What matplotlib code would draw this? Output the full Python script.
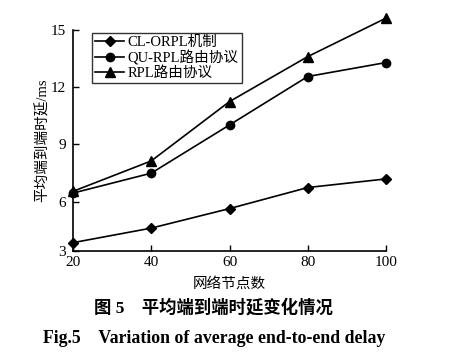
import matplotlib.pyplot as plt

plt.rcParams['font.family'] = ['Liberation Serif', 'Noto Sans CJK SC']

nodes = [20, 40, 60, 80, 100]
cl_orpl = [3.87, 4.63, 5.65, 6.75, 7.2]
qu_rpl = [6.46, 7.5, 10.02, 12.55, 13.28]
rpl = [6.55, 8.14, 11.24, 13.59, 15.6]

yticks = [6, 9, 12, 15]
xticks = [20, 40, 60, 80, 100]

fig = plt.figure(figsize=(4.59, 3.61), dpi=100)
ax = fig.add_axes([0.159, 0.305, 0.682, 0.613])

ax.plot(nodes, cl_orpl, color='black', lw=1.2, marker='D', ms=5.5, label='CL-ORPL机制', clip_on=False)
ax.plot(nodes, qu_rpl, color='black', lw=1.2, marker='o', ms=6, label='QU-RPL路由协议', clip_on=False)
ax.plot(nodes, rpl, color='black', lw=1.2, marker='^', ms=6.5, label='RPL路由协议', clip_on=False)

ax.set_xlim(20, 100)
ax.set_ylim(3.44, 15)
ax.set_xticks(xticks)
ax.set_yticks([3.44] + yticks)
ax.set_yticklabels(['3'] + [str(t) for t in yticks])
ax.tick_params(direction='in', length=4, width=1, labelsize=11, colors='black')
ax.tick_params(axis='y', pad=5)
for s in ['top', 'right']:
    ax.spines[s].set_visible(False)
for s in ['left', 'bottom']:
    ax.spines[s].set_linewidth(1.2)

ax.set_xlabel('网络节点数', fontsize=10.5, labelpad=6)
ax.set_ylabel('平均端到端时延/ms', fontsize=10.5, labelpad=1)

leg = ax.legend(loc='upper left', bbox_to_anchor=(0.05, 1.0), fontsize=10.5,
                frameon=True, fancybox=False, edgecolor='black', handlelength=2.0,
                handletextpad=0.2, labelspacing=0.05, borderpad=0.25, borderaxespad=0.2)
leg.get_frame().set_linewidth(1.0)

fig.text(0.466, 0.147, '图 5　平均端到端时延变化情况', ha='center', va='center',
         fontsize=12.5, fontweight='bold')
fig.text(0.466, 0.063, 'Fig.5    Variation of average end-to-end delay', ha='center', va='center',
         fontsize=12.8, fontweight='bold')

fig.savefig('out.png', dpi=100)
